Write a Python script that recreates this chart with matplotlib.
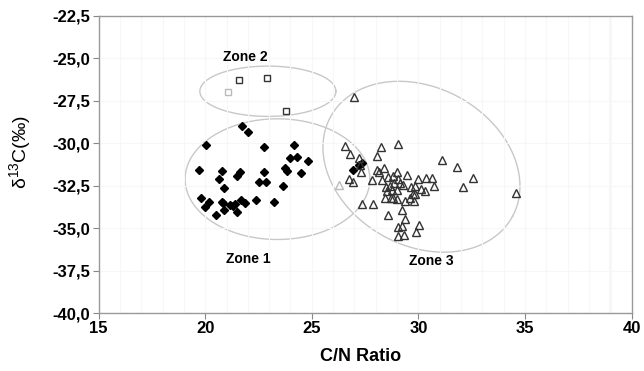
"""C/N ratio vs d13C scatter with three zones."""

import numpy as np
import matplotlib
matplotlib.use("Agg")
import matplotlib.pyplot as plt
from matplotlib.ticker import MultipleLocator

plt.rcParams["font.family"] = ["Liberation Sans", "DejaVu Sans"]

# zone 1 (filled diamonds)
zone1_cn = [21.71, 21.99, 20.04, 22.77, 24.16, 24.32, 24.00, 24.83, 19.70, 20.77,
            21.63, 21.50, 22.76, 23.75, 23.82, 24.47, 20.65, 22.54, 22.85, 20.88,
            23.66, 19.82, 20.16, 20.00, 20.77, 20.85, 21.16, 21.40, 21.32, 21.68,
            21.86, 22.38, 23.24, 20.88, 21.48, 20.50, 27.33, 27.20, 26.91]
zone1_d13c = [-29.00, -29.32, -30.10, -30.20, -30.09, -30.80, -30.90, -31.03, -31.60, -31.65,
              -31.69, -31.92, -31.72, -31.49, -31.67, -31.78, -32.14, -32.29, -32.27, -32.65,
              -32.55, -33.24, -33.44, -33.77, -33.44, -33.50, -33.64, -33.60, -33.70, -33.36,
              -33.54, -33.34, -33.48, -33.95, -34.05, -34.20, -31.19, -31.30, -31.58]

# zone 2 (open squares)
zone2_cn = [21.58, 22.88, 23.80]
zone2_d13c = [-26.26, -26.17, -28.10]

# zone 3 (open triangles)
zone3_cn = [26.57, 26.79, 28.25, 29.05, 27.19, 28.04, 27.25, 27.30, 31.08, 31.79,
            32.56, 32.07, 34.56, 26.75, 26.94, 27.82, 28.04, 28.38, 28.14, 28.27,
            28.58, 28.79, 29.00, 29.02, 28.86, 28.66, 28.53, 28.75, 28.97, 29.44,
            29.28, 29.63, 29.99, 30.35, 30.63, 30.72, 30.30, 29.83, 29.85, 29.60,
            29.36, 29.78, 29.00, 28.69, 28.43, 27.33, 27.88, 29.25, 28.58, 29.36,
            30.02, 29.05, 29.25, 29.88, 29.05, 29.33, 28.47, 28.81, 29.13, 29.75,
            30.11, 27.00]
zone3_d13c = [-30.15, -30.64, -30.25, -30.05, -30.90, -30.74, -31.27, -31.72, -30.99, -31.39,
              -32.08, -32.61, -32.91, -32.12, -32.26, -32.17, -31.58, -31.47, -31.68, -32.17,
              -32.02, -31.92, -31.72, -32.12, -32.32, -32.51, -32.81, -32.75, -32.77, -31.86,
              -32.45, -32.57, -32.12, -32.08, -32.08, -32.55, -32.81, -32.51, -32.97, -33.24,
              -33.40, -33.40, -33.30, -33.24, -33.24, -33.56, -33.56, -33.95, -34.24, -34.48,
              -34.82, -34.92, -34.90, -35.21, -35.47, -35.43, -32.57, -33.20, -32.32, -33.00,
              -32.71, -27.30]

# faint (light grey) samples
pale_sq_cn, pale_sq_d13c = [21.08], [-27.01]
pale_tri_cn, pale_tri_d13c = [26.27], [-32.45]

x_ticks = [15, 20, 25, 30, 35, 40]
y_ticks = [-40.0, -37.5, -35.0, -32.5, -30.0, -27.5, -25.0, -22.5]
y_tick_labels = ["-40,0", "-37,5", "-35,0", "-32,5", "-30,0", "-27,5", "-25,0", "-22,5"]


def ellipse(ax, cx, cy, u, v):
    """Draw an ellipse from centre and two conjugate semi-diameters (data units)."""
    t = np.linspace(0, 2 * np.pi, 300)
    xs = cx + u[0] * np.cos(t) + v[0] * np.sin(t)
    ys = cy + u[1] * np.cos(t) + v[1] * np.sin(t)
    ax.plot(xs, ys, color="#c8c8c8", lw=1.0, zorder=1)


fig = plt.figure(figsize=(6.44, 3.71), dpi=100)
ax = fig.add_axes([0.153, 0.156, 0.828, 0.802])

ax.set_xlim(15, 40)
ax.set_ylim(-40, -22.5)
ax.xaxis.set_minor_locator(MultipleLocator(1))
ax.grid(True, which="minor", axis="x", color="#f7f7f7", lw=0.8, zorder=0)
ax.grid(True, which="major", axis="both", color="#f7f7f7", lw=0.8, zorder=0)
ax.tick_params(which="minor", length=0)

ax.axvline(39, color="#d8d8d8", lw=1.0, zorder=1)

ellipse(ax, 23.39, -32.12, (4.33, 0.0), (0.0, 3.55))
ellipse(ax, 22.94, -26.95, (3.19, 0.0), (0.0, 1.48))
ellipse(ax, 30.14, -31.39, (4.27, -2.92), (-1.76, -4.09))

ax.plot(zone1_cn, zone1_d13c, "D", ms=4.5, color="black", zorder=3)
ax.plot(zone2_cn, zone2_d13c, "s", ms=5, mfc="white", mec="#333333", mew=1.0, zorder=3)
ax.plot(zone3_cn, zone3_d13c, "^", ms=5.5, mfc="none", mec="#333333", mew=1.0, zorder=3)
ax.plot(pale_sq_cn, pale_sq_d13c, "s", ms=5, mfc="white", mec="#bbbbbb", mew=1.0, zorder=3)
ax.plot(pale_tri_cn, pale_tri_d13c, "^", ms=5.5, mfc="none", mec="#bbbbbb", mew=1.0, zorder=3)

for label, x, y in [("Zone 2", 21.87, -24.94), ("Zone 1", 22.0, -36.83), ("Zone 3", 30.62, -36.95)]:
    ax.text(x, y, label, ha="center", va="center", fontsize=10, fontweight="bold")

ax.set_xticks(x_ticks)
ax.set_yticks(y_ticks)
ax.set_yticklabels(y_tick_labels)
ax.tick_params(axis="both", which="major", length=4, color="#888888", labelsize=12)
ax.tick_params(axis="x", pad=2)
ax.tick_params(axis="y", pad=2)
for lab in ax.get_xticklabels() + ax.get_yticklabels():
    lab.set_fontweight("bold")

for sp in ax.spines.values():
    sp.set_color("#999999")
    sp.set_linewidth(1.0)

ax.set_xlabel("C/N Ratio", fontsize=13, fontweight="bold")
ax.xaxis.set_label_coords(0.491, -0.118)
ax.set_ylabel(r"$\mathregular{\delta^{13}C(‰)}$", fontsize=14)
ax.yaxis.set_label_coords(-0.123, 0.54)

fig.savefig("out.png", dpi=100)
